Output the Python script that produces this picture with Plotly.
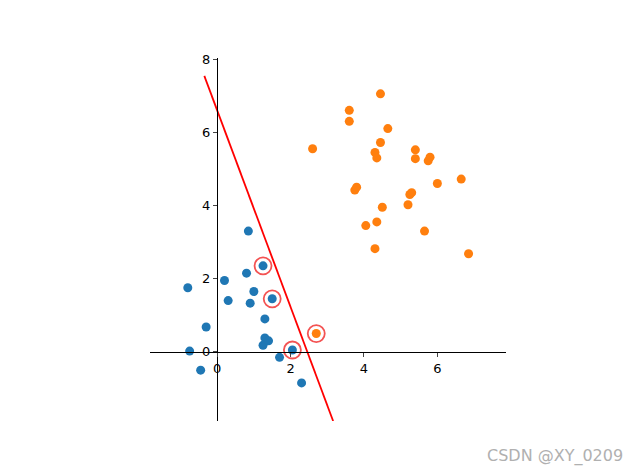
import plotly.graph_objects as go

blue_x = [-0.8,-0.75,-0.45,-0.3,0.2,0.3,0.8,0.85,0.9,1.0,1.25,1.3,1.3,1.25,1.4,1.5,1.7,2.05,2.3]
blue_y = [1.75,0.02,-0.5,0.68,1.95,1.4,2.15,3.3,1.33,1.65,2.35,0.9,0.38,0.18,0.3,1.45,-0.15,0.05,-0.85]
orange_x = [2.6,2.7,3.6,3.6,3.75,3.8,4.05,4.3,4.3,4.35,4.35,4.45,4.45,4.5,4.65,5.2,5.25,5.3,5.4,5.4,5.65,5.75,5.8,6.0,6.65,6.85]
orange_y = [5.55,0.5,6.6,6.3,4.42,4.5,3.45,2.82,5.45,5.3,3.55,7.05,5.72,3.95,6.1,4.02,4.3,4.35,5.52,5.28,3.3,5.22,5.32,4.6,4.72,2.68]
sv_x = [1.25,1.5,2.05,2.7]
sv_y = [2.35,1.45,0.05,0.5]
line_x = [-0.35,3.16]
line_y = [7.54,-1.89]

fig = go.Figure()
fig.add_trace(go.Scatter(x=blue_x, y=blue_y, mode='markers', marker=dict(color='#1f77b4', size=9)))
fig.add_trace(go.Scatter(x=orange_x, y=orange_y, mode='markers', marker=dict(color='#ff7f0e', size=9)))
fig.add_trace(go.Scatter(x=sv_x, y=sv_y, mode='markers', marker=dict(color='rgba(0,0,0,0)', size=17, line=dict(color='rgba(240,40,40,0.8)', width=1.8))))
fig.add_trace(go.Scatter(x=line_x, y=line_y, mode='lines', line=dict(color='red', width=1.8)))

fig.update_layout(
    width=640, height=473, showlegend=False,
    plot_bgcolor='white', paper_bgcolor='white',
    margin=dict(l=142, r=142, t=50, b=60, autoexpand=False),
    font=dict(family='DejaVu Sans', size=13, color='black'),
    xaxis=dict(range=[-1.83,7.87], showgrid=False, zeroline=False, showline=True, linecolor='black', linewidth=1,
               ticks='outside', ticklen=4, tickvals=[0,2,4,6], anchor='free', position=0.19),
    yaxis=dict(range=[-1.89,8.03], showgrid=False, zeroline=False, showline=True, linecolor='black', linewidth=1,
               ticks='outside', ticklen=4, tickvals=[0,2,4,6,8], anchor='free', position=0.188),
    annotations=[dict(text='CSDN @XY_0209', xref='paper', yref='paper', x=1.334, y=-0.063, xanchor='right', yanchor='top',
                      showarrow=False, font=dict(size=16, color='#b0b0b0'))]
)
fig.write_html('out.html')
